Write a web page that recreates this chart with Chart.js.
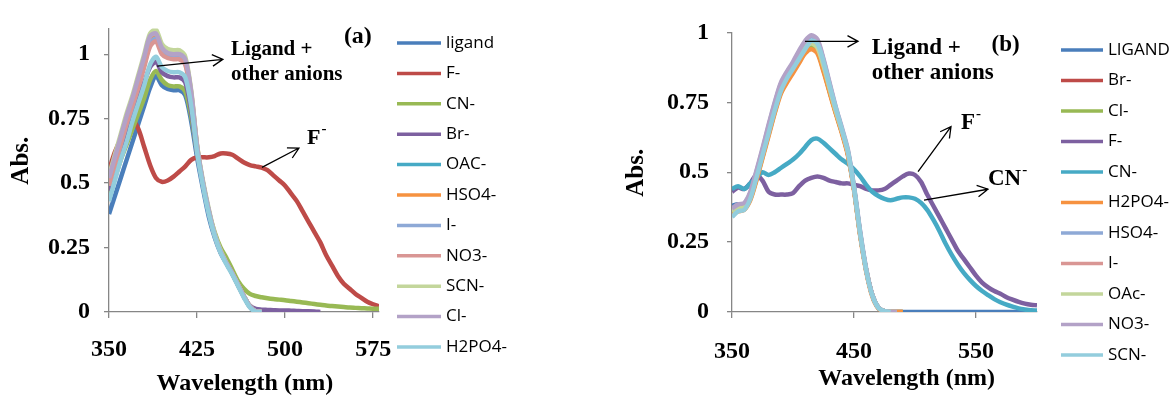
<!DOCTYPE html>
<html>
<head>
<meta charset="utf-8">
<script src="https://cdn.jsdelivr.net/npm/chart.js@4.4.1/dist/chart.umd.min.js"></script>
<style>
    html, body { margin: 0; padding: 0; background: #fff; }
    #wrapA { position: absolute; left: 0; top: 0; width: 590px; height: 399px; }
    #wrapB { position: absolute; left: 590px; top: 0; width: 585px; height: 399px; }
</style>
</head>
<body>
<div id="wrapA"><canvas id="chartA"></canvas></div>
<div id="wrapB"><canvas id="chartB"></canvas></div>
<script>
// ---- panel (a) ----
const wavelengthsA = [350, 355, 360, 365, 370, 375, 380, 385, 390, 395, 400, 405, 410, 415, 420, 425, 430, 435, 440, 445, 450, 455, 460, 465, 470, 475, 480,
    485, 490, 495, 500, 505, 510, 515, 520, 525, 530, 535, 540, 545, 550, 555, 560, 565, 570, 575, 580]
const namesA = ['ligand', 'F-', 'CN-', 'Br-', 'OAC-', 'HSO4-', 'I-', 'NO3-', 'SCN-', 'Cl-', 'H2PO4-']
const ligandA = [0.38, 0.45, 0.52, 0.59, 0.66, 0.73, 0.80, 0.87, 0.915, 0.88, 0.865, 0.86, 0.86, 0.84, 0.74, 0.60, 0.48, 0.37, 0.29, 0.23, 0.19, 0.15, 0.105, 0.06, 0.02, 0, 0]
const fluorideA = [0.55, 0.62, 0.67, 0.70, 0.745, 0.71, 0.64, 0.57, 0.52, 0.505, 0.51, 0.525, 0.545, 0.565, 0.59, 0.60, 0.60, 0.60, 0.605, 0.615, 0.615, 0.61, 0.595, 0.58, 0.57, 0.565, 0.56,
    0.55, 0.53, 0.51, 0.49, 0.46, 0.43, 0.39, 0.35, 0.31, 0.27, 0.22, 0.18, 0.14, 0.11, 0.09, 0.07, 0.055, 0.04, 0.03, 0.022]
const cyanideA = [0.45, 0.52, 0.59, 0.65, 0.71, 0.77, 0.83, 0.90, 0.935, 0.90, 0.88, 0.875, 0.875, 0.855, 0.76, 0.62, 0.50, 0.39, 0.31, 0.25, 0.21, 0.165, 0.12, 0.09, 0.07, 0.062, 0.057,
    0.053, 0.05, 0.048, 0.046, 0.043, 0.04, 0.037, 0.034, 0.031, 0.028, 0.025, 0.023, 0.021, 0.019, 0.017, 0.016, 0.015, 0.014, 0.013, 0.013]
const bromideA = [0.47, 0.55, 0.62, 0.69, 0.76, 0.83, 0.89, 0.95, 0.97, 0.93, 0.915, 0.91, 0.91, 0.89, 0.78, 0.62, 0.50, 0.39, 0.30, 0.235, 0.19, 0.15, 0.105, 0.06, 0.025, 0.012, 0.009,
    0.008, 0.007, 0.006, 0.006, 0.005, 0.004, 0.003, 0.003, 0.002, 0]
const acetateA = [0.50, 0.58, 0.66, 0.74, 0.81, 0.88, 0.96, 1.04, 1.06, 1.01, 0.995, 0.99, 0.99, 0.97, 0.84, 0.64, 0.50, 0.39, 0.30, 0.235, 0.19, 0.15, 0.105, 0.06, 0.022, 0.003, 0]
const hydrogenSulfateA = [0.50, 0.58, 0.66, 0.74, 0.82, 0.89, 0.97, 1.05, 1.065, 1.015, 1.0, 1.0, 0.995, 0.975, 0.85, 0.645, 0.50, 0.39, 0.30, 0.235, 0.19, 0.15, 0.105, 0.06, 0.022, 0.003, 0]
const iodideA = [0.49, 0.57, 0.65, 0.73, 0.80, 0.88, 0.96, 1.04, 1.06, 1.01, 0.99, 0.99, 0.985, 0.965, 0.84, 0.64, 0.50, 0.39, 0.30, 0.235, 0.19, 0.15, 0.105, 0.06, 0.022, 0.003, 0]
const nitrateA = [0.49, 0.57, 0.65, 0.73, 0.80, 0.87, 0.95, 1.03, 1.05, 1.0, 0.985, 0.98, 0.98, 0.96, 0.835, 0.635, 0.50, 0.39, 0.30, 0.235, 0.19, 0.15, 0.105, 0.06, 0.022, 0.003, 0]
const thiocyanateA = [0.53, 0.61, 0.69, 0.77, 0.84, 0.92, 1.0, 1.08, 1.095, 1.04, 1.02, 1.015, 1.015, 0.99, 0.86, 0.65, 0.51, 0.40, 0.305, 0.24, 0.19, 0.15, 0.105, 0.06, 0.022, 0.003, 0]
const chlorideA = [0.52, 0.60, 0.68, 0.76, 0.83, 0.91, 0.99, 1.07, 1.08, 1.025, 1.005, 1.0, 1.0, 0.98, 0.855, 0.645, 0.505, 0.395, 0.30, 0.235, 0.19, 0.15, 0.105, 0.06, 0.022, 0.003, 0]
const dihydrogenPhosphateA = [0.43, 0.51, 0.59, 0.66, 0.74, 0.81, 0.88, 0.96, 0.99, 0.95, 0.935, 0.93, 0.93, 0.91, 0.80, 0.62, 0.49, 0.38, 0.295, 0.23, 0.185, 0.145, 0.10, 0.055, 0.018, 0.001, 0]
const xTicksA = [350, 425, 500, 575]
const yTicksA = [0, 0.25, 0.5, 0.75, 1]

// ---- panel (b) ----
const wavelengthsB = [350, 355, 360, 365, 370, 375, 380, 385, 390, 395, 400, 405, 410, 415, 420, 425, 430, 435, 440, 445, 450, 455, 460, 465, 470, 475, 480,
    485, 490, 495, 500, 505, 510, 515, 520, 525, 530, 535, 540, 545, 550, 555, 560, 565, 570, 575, 580, 585, 590, 595, 600]
const namesB = ['LIGAND', 'Br-', 'Cl-', 'F-', 'CN-', 'H2PO4-', 'HSO4-', 'I-', 'OAc-', 'NO3-', 'SCN-']
const ligandB = [0.38, 0.385, 0.385, 0.42, 0.49, 0.57, 0.65, 0.73, 0.80, 0.84, 0.875, 0.91, 0.945, 0.96, 0.945, 0.88, 0.80, 0.72, 0.65, 0.57, 0.44, 0.28, 0.15, 0.06, 0.015, 0.003, 0,
    0, 0, 0, 0, 0, 0, 0, 0, 0, 0, 0, 0, 0, 0, 0, 0, 0, 0, 0, 0, 0, 0, 0, 0]
const bromideB = [0.36, 0.37, 0.375, 0.41, 0.48, 0.56, 0.64, 0.72, 0.79, 0.83, 0.865, 0.90, 0.935, 0.95, 0.935, 0.87, 0.79, 0.715, 0.645, 0.565, 0.44, 0.28, 0.15, 0.06, 0.015, 0.003, 0, 0, 0]
const chlorideB = [0.35, 0.365, 0.37, 0.405, 0.475, 0.555, 0.635, 0.715, 0.785, 0.825, 0.86, 0.895, 0.93, 0.945, 0.93, 0.865, 0.79, 0.715, 0.645, 0.565, 0.44, 0.28, 0.15, 0.06, 0.015, 0.003, 0, 0, 0]
const fluorideB = [0.43, 0.445, 0.44, 0.46, 0.49, 0.47, 0.43, 0.42, 0.42, 0.42, 0.425, 0.45, 0.47, 0.48, 0.485, 0.48, 0.47, 0.465, 0.46, 0.46, 0.455, 0.45, 0.44, 0.435, 0.435, 0.44, 0.455,
    0.47, 0.485, 0.495, 0.49, 0.465, 0.42, 0.38, 0.34, 0.30, 0.26, 0.22, 0.19, 0.16, 0.13, 0.105, 0.088, 0.075, 0.065, 0.053, 0.044, 0.036, 0.03, 0.026, 0.024]
const cyanideB = [0.44, 0.45, 0.44, 0.46, 0.48, 0.50, 0.49, 0.50, 0.515, 0.53, 0.545, 0.565, 0.59, 0.615, 0.62, 0.605, 0.585, 0.565, 0.545, 0.53, 0.51, 0.485, 0.455, 0.43, 0.415, 0.405, 0.40,
    0.405, 0.41, 0.41, 0.405, 0.39, 0.365, 0.33, 0.29, 0.245, 0.205, 0.17, 0.14, 0.115, 0.093, 0.075, 0.06, 0.046, 0.035, 0.026, 0.019, 0.013, 0.009, 0.006, 0.005]
const dihydrogenPhosphateB = [0.35, 0.36, 0.365, 0.40, 0.47, 0.55, 0.63, 0.71, 0.78, 0.82, 0.855, 0.89, 0.925, 0.94, 0.925, 0.86, 0.785, 0.71, 0.64, 0.56, 0.435, 0.275, 0.145, 0.055, 0.012, 0.002, 0, 0, 0]
const hydrogenSulfateB = [0.37, 0.38, 0.385, 0.425, 0.50, 0.58, 0.665, 0.745, 0.815, 0.855, 0.89, 0.93, 0.965, 0.985, 0.97, 0.90, 0.815, 0.73, 0.655, 0.575, 0.445, 0.285, 0.15, 0.06, 0.015, 0.003, 0, 0]
const iodideB = [0.365, 0.375, 0.38, 0.42, 0.495, 0.575, 0.655, 0.735, 0.805, 0.845, 0.88, 0.915, 0.95, 0.965, 0.95, 0.885, 0.805, 0.725, 0.65, 0.57, 0.44, 0.28, 0.15, 0.06, 0.015, 0.003, 0, 0]
const acetateB = [0.36, 0.37, 0.375, 0.415, 0.49, 0.57, 0.65, 0.73, 0.80, 0.84, 0.875, 0.91, 0.945, 0.96, 0.945, 0.88, 0.80, 0.72, 0.65, 0.57, 0.44, 0.28, 0.15, 0.06, 0.015, 0.003, 0, 0]
const nitrateB = [0.37, 0.385, 0.39, 0.43, 0.505, 0.585, 0.67, 0.75, 0.82, 0.86, 0.895, 0.935, 0.97, 0.99, 0.975, 0.905, 0.82, 0.735, 0.66, 0.58, 0.45, 0.29, 0.155, 0.062, 0.016, 0.003, 0, 0]
const thiocyanateB = [0.34, 0.36, 0.365, 0.405, 0.48, 0.56, 0.64, 0.72, 0.79, 0.835, 0.87, 0.905, 0.94, 0.97, 0.96, 0.895, 0.81, 0.73, 0.655, 0.575, 0.445, 0.285, 0.15, 0.06, 0.015, 0.003, 0]
const xTicksB = [350, 450, 550]
const yTicksB = [0, 0.25, 0.5, 0.75, 1]

// Excel-like series palette, same order in both panels
const seriesColors = ['#4A7EBB', '#BE4B48', '#98B954', '#7D60A0', '#46AAC5', '#F69240', '#8EA9D6', '#D99694', '#C3D69B', '#B3A2C7', '#93CDDD']

const serif = size => `bold ${size}px "Liberation Serif", "Times New Roman", serif`
const AXIS_GRAY = '#868686'

/**
 * Arrows, labels and the side legend drawn on top of the chart.
 * Positions of notes are in data units of the x / y scales.
 */
const notesPlugin = {
    id: 'notes',
    afterDraw(chart, args, opts) {
        const ctx = chart.ctx
        const xs = chart.scales.x
        const ys = chart.scales.y
        ctx.save()

        // legend
        const lg = opts.legend
        chart.data.datasets.forEach((ds, i) => {
            const y = lg.top + i * lg.step
            ctx.strokeStyle = ds.borderColor
            ctx.lineWidth = 3.5
            ctx.beginPath()
            ctx.moveTo(lg.x1, y)
            ctx.lineTo(lg.x2, y)
            ctx.stroke()
            ctx.fillStyle = '#000'
            ctx.font = lg.font
            ctx.textAlign = 'left'
            ctx.textBaseline = 'middle'
            ctx.fillText(ds.label, lg.tx, y)
        })

        opts.items.forEach(item => {
            if (item.arrow) {
                const [a, b, c, d] = item.arrow
                const x1 = xs.getPixelForValue(a), y1 = ys.getPixelForValue(b)
                const x2 = xs.getPixelForValue(c), y2 = ys.getPixelForValue(d)
                const ang = Math.atan2(y2 - y1, x2 - x1)
                ctx.strokeStyle = '#000'
                ctx.lineWidth = 1.3
                ctx.beginPath()
                ctx.moveTo(x1, y1)
                ctx.lineTo(x2, y2)
                ctx.moveTo(x2 - 12 * Math.cos(ang - 0.5), y2 - 12 * Math.sin(ang - 0.5))
                ctx.lineTo(x2, y2)
                ctx.lineTo(x2 - 12 * Math.cos(ang + 0.5), y2 - 12 * Math.sin(ang + 0.5))
                ctx.stroke()
                return
            }
            const px = xs.getPixelForValue(item.x)
            const py = ys.getPixelForValue(item.y)
            ctx.fillStyle = '#000'
            ctx.font = item.font
            ctx.textBaseline = 'middle'
            ctx.textAlign = item.align || 'left'
            if (item.rotate) {
                ctx.save()
                ctx.translate(px, py)
                ctx.rotate(-Math.PI / 2)
                ctx.fillText(item.text, 0, 0)
                ctx.restore()
            } else {
                ctx.fillText(item.text, px, py)
            }
            if (item.sup) {
                const w = ctx.measureText(item.text).width
                ctx.font = serif(15)
                ctx.textAlign = 'left'
                ctx.fillText(item.sup, px + w + 1, py - 9)
            }
        })
        ctx.restore()
    }
}

// each series runs as far as its values go along the shared wavelength list
function makeDatasets(names, seriesList, xs) {
    return names.map((name, i) => ({
        label: name,
        data: seriesList[i].map((y, k) => ({ x: xs[k], y: y })),
        borderColor: seriesColors[i],
        backgroundColor: seriesColors[i],
        borderWidth: 4.5,
        pointRadius: 0,
        tension: 0.3,
        order: -i
    }))
}

function makeScales(cfg) {
    return {
        x: {
            type: 'linear',
            min: cfg.xMin,
            max: cfg.xMax,
            afterBuildTicks: s => { s.ticks = cfg.xTicks.map(v => ({ value: v })) },
            afterFit: s => { s.height = cfg.xHeight },
            grid: { drawOnChartArea: false, drawTicks: true, tickLength: 6, color: AXIS_GRAY, lineWidth: 1.3 },
            border: { color: AXIS_GRAY, width: 1.3 },
            ticks: { font: { family: '"Liberation Serif", serif', size: 24, weight: 'bold' }, color: '#000', padding: cfg.xPad, maxRotation: 0, autoSkip: false, callback: v => String(v) }
        },
        y: {
            type: 'linear',
            min: 0,
            max: cfg.yMax,
            afterBuildTicks: s => { s.ticks = cfg.yTicks.map(v => ({ value: v })) },
            afterFit: s => { s.width = cfg.yWidth },
            grid: { drawOnChartArea: false, drawTicks: true, tickLength: 5, color: AXIS_GRAY, lineWidth: 1.3 },
            border: { color: AXIS_GRAY, width: 1.3 },
            ticks: { font: { family: '"Liberation Serif", serif', size: 24, weight: 'bold' }, color: '#000', padding: cfg.yPad, autoSkip: false, callback: v => String(v) }
        }
    }
}

const notesA = [
    { text: '(a)', x: 562, y: 1.066, font: serif(24), align: 'center' },
    { text: 'Ligand +', x: 454, y: 1.018, font: serif(21) },
    { text: 'other anions', x: 454, y: 0.92, font: serif(21) },
    { arrow: [391, 0.954, 447, 0.98] },
    { text: 'F', sup: '-', x: 518.7, y: 0.673, font: serif(22) },
    { arrow: [480.3, 0.561, 511.8, 0.636] },
    { text: 'Wavelength (nm)', x: 465.8, y: -0.277, font: serif(24), align: 'center' },
    { text: 'Abs.', x: 275.9, y: 0.587, font: serif(25), align: 'center', rotate: true }
]

const notesB = [
    { arrow: [409.8, 0.968, 453.3, 0.968] },
    { text: 'Ligand +', x: 464.5, y: 0.945, font: serif(23) },
    { text: 'other anions', x: 464.5, y: 0.853, font: serif(23) },
    { text: '(b)', x: 574.2, y: 0.954, font: serif(23), align: 'center' },
    { arrow: [502.5, 0.502, 529.5, 0.663] },
    { text: 'F', sup: '-', x: 537.7, y: 0.674, font: serif(23) },
    { arrow: [507.4, 0.4, 559.8, 0.439] },
    { text: 'CN', sup: '-', x: 559.8, y: 0.477, font: serif(23) },
    { text: 'Wavelength (nm)', x: 493.2, y: -0.239, font: serif(24), align: 'center' },
    { text: 'Abs.', x: 272.1, y: 0.498, font: serif(25), align: 'center', rotate: true }
]

const chartA = new Chart(document.getElementById('chartA'), {
    type: 'line',
    data: {
        datasets: makeDatasets(namesA, [ligandA, fluorideA, cyanideA, bromideA, acetateA, hydrogenSulfateA, iodideA, nitrateA, thiocyanateA, chlorideA, dihydrogenPhosphateA], wavelengthsA)
    },
    options: {
        responsive: true,
        maintainAspectRatio: false,
        animation: false,
        layout: { padding: { left: 0, right: 211, top: 18, bottom: 0 } },
        scales: makeScales({ xMin: 350, xMax: 580, xTicks: xTicksA, xHeight: 87, xPad: 17, yMax: 1.1, yTicks: yTicksA, yWidth: 109, yPad: 14 }),
        plugins: {
            legend: { display: false },
            tooltip: { enabled: false },
            notes: {
                legend: { x1: 397, x2: 441, tx: 446, top: 43, step: 30.4, font: '17px "Open Sans", sans-serif' },
                items: notesA
            }
        }
    },
    plugins: [notesPlugin]
})

const chartB = new Chart(document.getElementById('chartB'), {
    type: 'line',
    data: {
        datasets: makeDatasets(namesB, [ligandB, bromideB, chlorideB, fluorideB, cyanideB, dihydrogenPhosphateB, hydrogenSulfateB, iodideB, acetateB, nitrateB, thiocyanateB], wavelengthsB)
    },
    options: {
        responsive: true,
        maintainAspectRatio: false,
        animation: false,
        layout: { padding: { left: 0, right: 138, top: 27, bottom: 0 } },
        scales: makeScales({ xMin: 350, xMax: 600, xTicks: xTicksB, xHeight: 87, xPad: 19, yMax: 1, yTicks: yTicksB, yWidth: 142, yPad: 18 }),
        plugins: {
            legend: { display: false },
            tooltip: { enabled: false },
            notes: {
                legend: { x1: 471, x2: 513, tx: 518, top: 50, step: 30.5, font: '17px "Open Sans", sans-serif' },
                items: notesB
            }
        }
    },
    plugins: [notesPlugin]
})
</script>
</body>
</html>
